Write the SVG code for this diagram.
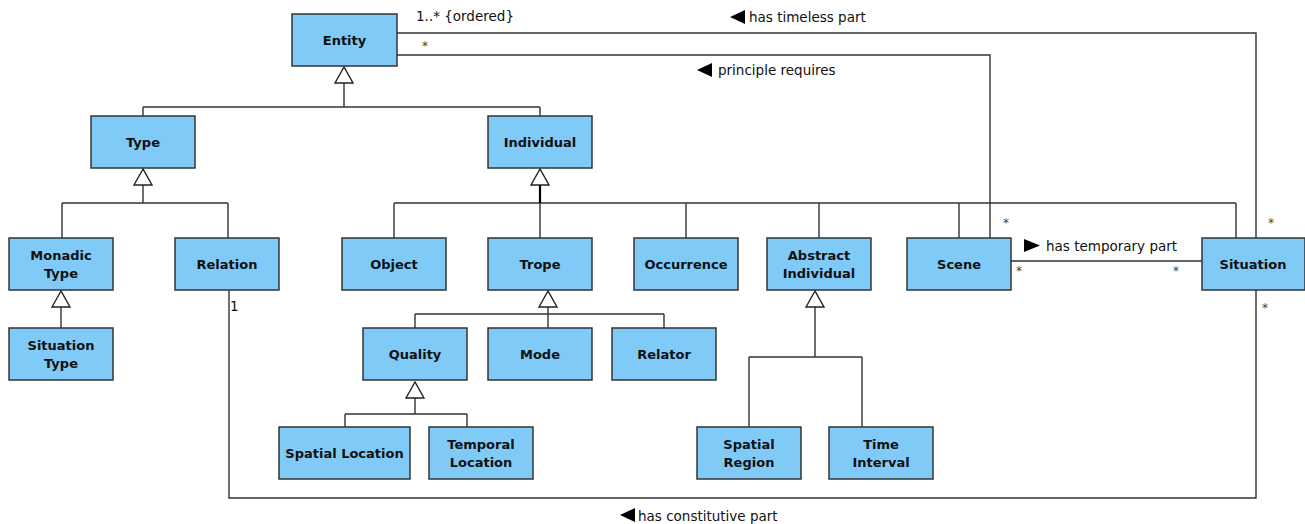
<svg xmlns="http://www.w3.org/2000/svg" width="1305" height="524" viewBox="0 0 1305 524">
<style>
.box{fill:#80caf7;stroke:#333;stroke-width:1.5}
.nt{font-family:"DejaVu Sans",sans-serif;font-weight:bold;font-size:13px;fill:#111;text-anchor:middle}
.ln{fill:none;stroke:#333;stroke-width:1.4}
.gen{fill:#fff;stroke:#222;stroke-width:1.4}
.lb{font-family:"DejaVu Sans",sans-serif;font-size:13.5px;fill:#111}
.st{font-family:"DejaVu Sans",sans-serif;font-size:12px;fill:#444}
.dir{fill:#000}
</style>
<rect width="1305" height="524" fill="#fff"/>
<g id="connectors">
<path class="ln" d="M344,83 V107 M143,107 H540 M143,107 V116 M540,107 V116"/>
<polygon class="gen" points="344,67 335,83 353,83"/>
<path class="ln" d="M143,185 V203 M62,203 H228 M62,203 V238 M228,203 V238"/>
<polygon class="gen" points="143,169 134,185 152,185"/>
<path class="ln" d="M540,185 V238 M394,203 H1236 M394,203 V238 M686,203 V238 M819,203 V238 M959,203 V238 M1236,203 V238"/>
<path d="M540,185 V203" stroke="#000" stroke-width="2.2"/>
<polygon class="gen" points="540,169 531,185 549,185"/>
<path class="ln" d="M61,307 V328"/>
<polygon class="gen" points="61,291 52,307 70,307"/>
<path class="ln" d="M548,307 V328 M415,314 H664 M415,314 V328 M664,314 V328"/>
<polygon class="gen" points="548,291 539,307 557,307"/>
<path class="ln" d="M415,398 V414 M345,414 H467 M345,414 V427 M467,414 V427"/>
<polygon class="gen" points="415,382 406,398 424,398"/>
<path class="ln" d="M815,307 V357 M749,357 H862 M749,357 V427 M862,357 V427"/>
<polygon class="gen" points="815,291 806,307 824,307"/>
<path class="ln" d="M397,33 H1256 V238"/>
<path class="ln" d="M397,55 H990 V238"/>
<path class="ln" d="M229,290 V498 H1256 V290"/>
<path class="ln" d="M1011,261 H1202"/>
<text class="lb" x="416" y="21">1..* {ordered}</text>
<text class="st" x="422" y="50">*</text>
<polygon class="dir" points="730,17 745,10 745,24"/>
<text class="lb" x="749" y="22">has timeless part</text>
<polygon class="dir" points="697,70 712,63 712,77"/>
<text class="lb" x="718" y="75">principle requires</text>
<text class="st" x="1003" y="227">*</text>
<text class="st" x="1268" y="227">*</text>
<polygon class="dir" points="1024,239 1040,245.5 1024,252"/>
<text class="lb" x="1046" y="251">has temporary part</text>
<text class="st" x="1016" y="275">*</text>
<text class="st" x="1173" y="275">*</text>
<text class="st" x="1262" y="312">*</text>
<text class="lb" x="230" y="311">1</text>
<polygon class="dir" points="620,515 635,508 635,522"/>
<text class="lb" x="638" y="521">has constitutive part</text>
</g>
<g id="entity"><rect class="box" x="292" y="14" width="105" height="52"/><text class="nt" x="344.5" y="45">Entity</text></g>
<g id="type"><rect class="box" x="91" y="116" width="104" height="52"/><text class="nt" x="143" y="147">Type</text></g>
<g id="individual"><rect class="box" x="488" y="116" width="104" height="52"/><text class="nt" x="540" y="147">Individual</text></g>
<g id="monadic-type"><rect class="box" x="9" y="238" width="104" height="52"/><text class="nt" x="61" y="260">Monadic</text><text class="nt" x="61" y="278">Type</text></g>
<g id="relation"><rect class="box" x="175" y="238" width="104" height="52"/><text class="nt" x="227" y="269">Relation</text></g>
<g id="situation-type"><rect class="box" x="9" y="328" width="104" height="52"/><text class="nt" x="61" y="350">Situation</text><text class="nt" x="61" y="368">Type</text></g>
<g id="object"><rect class="box" x="342" y="238" width="104" height="52"/><text class="nt" x="394" y="269">Object</text></g>
<g id="trope"><rect class="box" x="488" y="238" width="104" height="52"/><text class="nt" x="540" y="269">Trope</text></g>
<g id="occurrence"><rect class="box" x="634" y="238" width="104" height="52"/><text class="nt" x="686" y="269">Occurrence</text></g>
<g id="abstract-individual"><rect class="box" x="767" y="238" width="104" height="52"/><text class="nt" x="819" y="260">Abstract</text><text class="nt" x="819" y="278">Individual</text></g>
<g id="scene"><rect class="box" x="907" y="238" width="104" height="52"/><text class="nt" x="959" y="269">Scene</text></g>
<g id="situation"><rect class="box" x="1202" y="238" width="103" height="52"/><text class="nt" x="1253" y="269">Situation</text></g>
<g id="quality"><rect class="box" x="363" y="328" width="104" height="52"/><text class="nt" x="415" y="359">Quality</text></g>
<g id="mode"><rect class="box" x="488" y="328" width="104" height="52"/><text class="nt" x="540" y="359">Mode</text></g>
<g id="relator"><rect class="box" x="612" y="328" width="104" height="52"/><text class="nt" x="664" y="359">Relator</text></g>
<g id="spatial-location"><rect class="box" x="279" y="427" width="131" height="52"/><text class="nt" x="344.5" y="458">Spatial Location</text></g>
<g id="temporal-location"><rect class="box" x="429" y="427" width="104" height="52"/><text class="nt" x="481" y="449">Temporal</text><text class="nt" x="481" y="467">Location</text></g>
<g id="spatial-region"><rect class="box" x="697" y="427" width="104" height="52"/><text class="nt" x="749" y="449">Spatial</text><text class="nt" x="749" y="467">Region</text></g>
<g id="time-interval"><rect class="box" x="829" y="427" width="104" height="52"/><text class="nt" x="881" y="449">Time</text><text class="nt" x="881" y="467">Interval</text></g>
</svg>
